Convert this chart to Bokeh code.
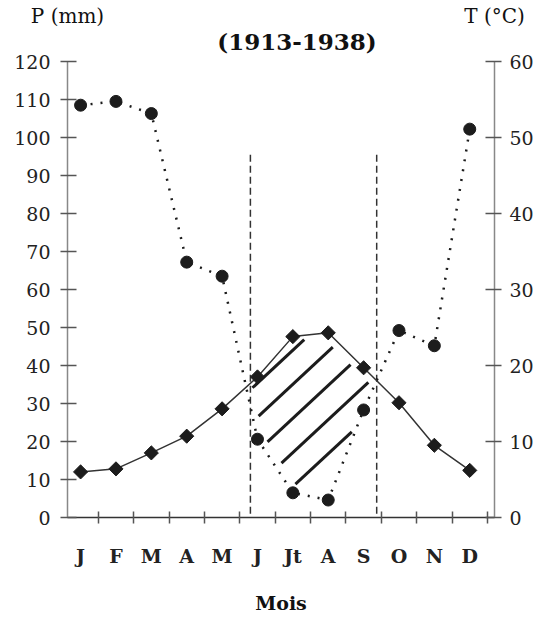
import math
from bokeh.plotting import figure
from bokeh.models import Range1d, LinearAxis, FixedTicker
from bokeh.embed import file_html
from bokeh.resources import INLINE

# ---- data ----
months = ["J", "F", "M", "A", "M", "J", "Jt", "A", "S", "O", "N", "D"]
month_idx = list(range(1, 13))
precip_mm = [108.5, 109.5, 106.3, 67.2, 63.5, 20.6, 6.5, 4.6, 28.3, 49.2, 45.2, 102.2]
temp_c = [6.0, 6.4, 8.5, 10.7, 14.3, 18.5, 23.8, 24.3, 19.7, 15.1, 9.5, 6.2]
p_ticks = list(range(0, 121, 10))
t_ticks = list(range(0, 61, 10))
dry_bounds = [5.8, 9.37]
title_text = "(1913-1938)"
p_unit = "P (mm)"
t_unit = "T (°C)"
x_title = "Mois"

SERIF = "DejaVu Serif"
INK = "#1c1c1c"

W, H = 540, 617
BL, BR, BT, BB = 67, 46, 60, 100
x0, x1 = 0.63, 12.7
P_MAX = 120
fw, fh = W - BL - BR, H - BT - BB
sx, sy = fw / (x1 - x0), fh / P_MAX

p = figure(width=W, height=H, x_range=Range1d(x0, x1), y_range=Range1d(0, P_MAX),
           output_backend="svg", toolbar_location=None,
           min_border_left=BL, min_border_right=BR, min_border_top=BT, min_border_bottom=BB)
p.outline_line_color = None
p.grid.visible = False
p.extra_y_ranges = {"T": Range1d(0, P_MAX / 2)}

# x axis
xa = p.xaxis[0]
xa.ticker = FixedTicker(ticks=month_idx, minor_ticks=[m + 0.5 for m in month_idx])
xa.major_label_overrides = {m: lab for m, lab in zip(month_idx, months)}
xa.major_tick_in = 0
xa.major_tick_out = 0
xa.minor_tick_in = 6
xa.minor_tick_out = 6
xa.minor_tick_line_color = "#555"
xa.minor_tick_line_width = 1.5
xa.axis_line_color = "#333"
xa.axis_line_width = 1.5
xa.major_label_text_font = SERIF
xa.major_label_text_font_style = "bold"
xa.major_label_text_font_size = "19px"
xa.major_label_text_color = "#222"
xa.major_label_standoff = 21
xa.axis_label = x_title
xa.axis_label_text_font = SERIF
xa.axis_label_text_font_style = "bold"
xa.axis_label_text_font_size = "19px"
xa.axis_label_text_color = "#111"
xa.axis_label_standoff = 22

def style_y(ax, standoff):
    ax.major_tick_in = 9
    ax.major_tick_out = 7
    ax.minor_tick_line_color = None
    ax.major_tick_line_color = "#555"
    ax.major_tick_line_width = 1.5
    ax.axis_line_color = "#888"
    ax.axis_line_width = 1.5
    ax.major_label_text_font = SERIF
    ax.major_label_text_font_size = "19px"
    ax.major_label_text_color = "#222"
    ax.major_label_standoff = standoff

ya = p.yaxis[0]
ya.ticker = FixedTicker(ticks=p_ticks)
style_y(ya, 10)

ra = LinearAxis(y_range_name="T", ticker=FixedTicker(ticks=t_ticks))
style_y(ra, 8)
p.add_layout(ra, "right")

# ---- header texts as tick labels of bare axes above the plot ----
def bare_axis(ticks, labels, font_size, bold, standoff):
    ax = LinearAxis(ticker=FixedTicker(ticks=ticks),
                    major_label_overrides={t: s for t, s in zip(ticks, labels)})
    ax.axis_line_color = None
    ax.major_tick_line_color = None
    ax.minor_tick_line_color = None
    ax.major_tick_in = 0
    ax.major_tick_out = 0
    ax.major_label_text_font = SERIF
    ax.major_label_text_font_size = font_size
    ax.major_label_text_font_style = "bold" if bold else "normal"
    ax.major_label_text_color = "#111"
    ax.major_label_standoff = standoff
    return ax

x_mid = (x0 + x1) / 2
title_axis = bare_axis([x_mid + 16 / sx], [title_text], "23px", True, 7)
p.add_layout(title_axis, "above")
eps = 1e-6
unit_axis = bare_axis([x0 + eps, x1 - eps], [p_unit, t_unit], "20px", False, -3)
p.add_layout(unit_axis, "above")

# temperature in precipitation units (P = 2T)
temp_scaled = [2 * t for t in temp_c]

# ---- dry period polygon between the two curves ----
diff = [pp - tt for pp, tt in zip(precip_mm, temp_scaled)]
cross = []
for i in range(len(diff) - 1):
    if diff[i] * diff[i + 1] < 0:
        f = diff[i] / (diff[i] - diff[i + 1])
        cross.append((month_idx[i] + f, precip_mm[i] + f * (precip_mm[i + 1] - precip_mm[i]), i))

if len(cross) >= 2:
    (xa_c, ya_c, ia), (xb_c, yb_c, ib) = cross[0], cross[1]
    inner = list(range(ia + 1, ib + 1))
    px = [xa_c] + [month_idx[k] for k in inner] + [xb_c] + [month_idx[k] for k in reversed(inner)]
    py = [ya_c] + [temp_scaled[k] for k in inner] + [yb_c] + [precip_mm[k] for k in reversed(inner)]

    # hatch lines, computed in screen-proportional space
    pts = [((x - x0) * sx, (P_MAX - y) * sy) for x, y in zip(px, py)]
    ang = math.radians(43)
    d = (math.cos(ang), -math.sin(ang))
    n = (math.sin(ang), math.cos(ang))
    cs = [n[0] * X + n[1] * Y for X, Y in pts]
    cmid = (min(cs) + max(cs)) / 2
    spacing, n_lines, shift, inset = 25, 5, -12, 7
    hx0, hy0, hx1, hy1 = [], [], [], []
    for k in range(n_lines):
        c = cmid + shift + (k - (n_lines - 1) / 2) * spacing
        hits = []
        for j in range(len(pts)):
            A, B = pts[j], pts[(j + 1) % len(pts)]
            fa = n[0] * A[0] + n[1] * A[1] - c
            fb = n[0] * B[0] + n[1] * B[1] - c
            if fa * fb < 0:
                t = fa / (fa - fb)
                hits.append((A[0] + t * (B[0] - A[0]), A[1] + t * (B[1] - A[1])))
        if len(hits) < 2:
            continue
        hits.sort(key=lambda q: q[0] * d[0] + q[1] * d[1])
        (ax_, ay_), (bx_, by_) = hits[0], hits[-1]
        ax_, ay_ = ax_ + inset * d[0], ay_ + inset * d[1]
        bx_, by_ = bx_ - inset * d[0], by_ - inset * d[1]
        hx0.append(ax_ / sx + x0); hy0.append(P_MAX - ay_ / sy)
        hx1.append(bx_ / sx + x0); hy1.append(P_MAX - by_ / sy)
    p.segment(x0=hx0, y0=hy0, x1=hx1, y1=hy1, line_color=INK, line_width=3)

# dashed dry-period bounds
p.segment(x0=dry_bounds, y0=[1] * len(dry_bounds), x1=dry_bounds, y1=[96] * len(dry_bounds),
          line_color="#333", line_width=1.5, line_dash="7 4")

# precipitation: dotted line with circles
p.line(month_idx, precip_mm, line_color=INK, line_width=2.5, line_dash="2 8")
p.scatter(month_idx, precip_mm, marker="circle", size=12, fill_color=INK, line_color=INK)

# temperature: solid line with diamonds
p.line(month_idx, temp_scaled, line_color="#333", line_width=1.5)
p.scatter(month_idx, temp_scaled, marker="square", angle=math.pi / 4, size=10,
          fill_color=INK, line_color=INK)

open("out.html", "w").write(file_html(p, INLINE))
